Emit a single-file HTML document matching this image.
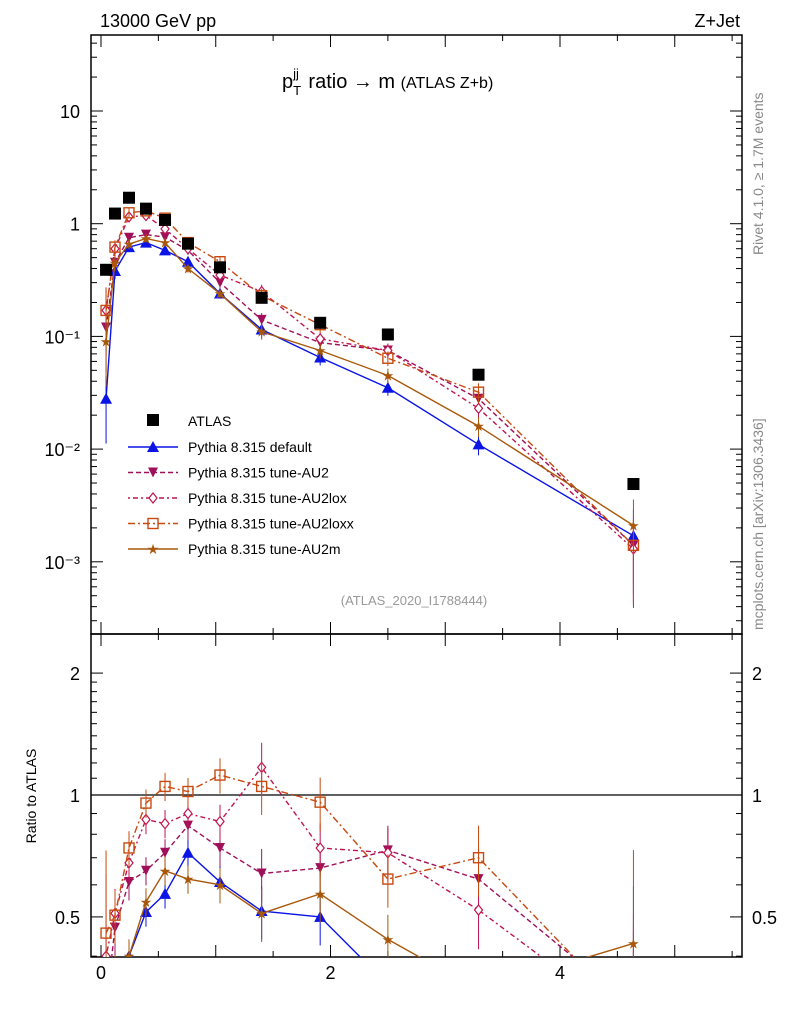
<!DOCTYPE html>
<html><head><meta charset="utf-8"><style>
html,body{margin:0;padding:0;background:#fff;width:786px;height:1024px;overflow:hidden;}
svg{font-family:"Liberation Sans",sans-serif;display:block;overflow:hidden}
</style></head><body>
<svg id="c" width="786" height="1024" viewBox="0 0 786 1024" xmlns="http://www.w3.org/2000/svg">
<text x="100" y="27" font-size="18">13000 GeV pp</text>
<text x="740" y="27" font-size="18" text-anchor="end">Z+Jet</text>
<text x="282" y="88" font-size="20">p<tspan font-size="13" dy="7">T</tspan><tspan font-size="13" dx="-8" dy="-17">jj</tspan><tspan dy="10" dx="4"> ratio → m </tspan><tspan font-size="16">(ATLAS Z+b)</tspan></text>
<text transform="translate(763,255) rotate(-90)" font-size="14" fill="#888">Rivet 4.1.0, ≥ 1.7M events</text>
<text transform="translate(763,630) rotate(-90)" font-size="14" fill="#888">mcplots.cern.ch [arXiv:1306.3436]</text>
<text x="414" y="605" font-size="13" fill="#999" text-anchor="middle">(ATLAS_2020_I1788444)</text>
<text transform="translate(36,796) rotate(-90)" font-size="14" text-anchor="middle">Ratio to ATLAS</text>
<g id="g"></g>
</svg>
<script>
const xs=[0.044,0.122,0.244,0.392,0.558,0.758,1.037,1.40,1.91,2.50,3.29,4.64];
const atlas=[0.39,1.23,1.70,1.36,1.08,0.665,0.41,0.22,0.132,0.104,0.0457,0.0049];
const relErr=[0.6,0.15,0.1,0.08,0.08,0.08,0.1,0.15,0.15,0.15,0.2,0.7];
const mDefault=[0.028,0.38,0.62,0.68,0.58,0.46,0.24,0.115,0.065,0.035,0.011,0.0017];
const mAU2=[0.12,0.45,0.75,0.80,0.76,0.58,0.30,0.14,0.088,0.075,0.028,0.0014];
const mAU2lox=[0.17,0.60,1.15,1.18,0.90,0.60,0.35,0.25,0.095,0.075,0.023,0.0013];
const mAU2loxx=[0.17,0.62,1.25,1.30,1.12,0.68,0.46,0.23,0.127,0.064,0.032,0.0014];
const mAU2m=[0.09,0.45,0.66,0.74,0.68,0.40,0.24,0.11,0.075,0.045,0.016,0.0021];
const rDefault=[0.07,0.31,0.40,0.514,0.57,0.72,0.61,0.517,0.50,0.34,0.24,0.35];
const rAU2=[0.3,0.47,0.61,0.65,0.72,0.84,0.74,0.64,0.66,0.73,0.62,0.3];
const rAU2lox=[0.40,0.51,0.68,0.87,0.85,0.90,0.86,1.17,0.74,0.72,0.52,0.27];
const rAU2loxx=[0.456,0.505,0.74,0.955,1.05,1.02,1.12,1.05,0.96,0.62,0.70,0.28];
const rAU2m=[0.2,0.35,0.40,0.545,0.65,0.62,0.60,0.51,0.57,0.44,0.33,0.43];
const labels=["Pythia 8.315 default","Pythia 8.315 tune-AU2","Pythia 8.315 tune-AU2lox","Pythia 8.315 tune-AU2loxx","Pythia 8.315 tune-AU2m"];
const yTickLabels=["10","1","10⁻¹","10⁻²","10⁻³"];
const ratioTicks=[0.5,1,2];
const xTickLabels=[0,2,4];

const NS="http://www.w3.org/2000/svg",G=document.getElementById('g');
function el(t,a,p){const e=document.createElementNS(NS,t);for(const k in a)e.setAttribute(k,a[k]);(p||G).appendChild(e);return e;}
const L=91,R=742,T1=35,B1=634,T2=634,B2=957;
const X=v=>101+v*114.75;
const Y1=v=>111-(Math.log10(v)-1)*112.7;
const Y2=v=>795-Math.log10(v)*405;
let f=el('rect',{x:L,y:T1,width:R-L,height:B1-T1,fill:'none',stroke:'#000','stroke-width':1.5});

f=el('rect',{x:L,y:T2,width:R-L,height:B2-T2,fill:'none',stroke:'#000','stroke-width':1.5});

for(let i=-0.0;i<=5.5;i+=0.5){const x=X(i),mj=Math.abs(i-Math.round(i))<1e-6,len=mj?12:6;
 for(const [t,b] of [[T1,B1],[T2,B2]]){el('line',{x1:x,x2:x,y1:b,y2:b-len,stroke:'#000'});el('line',{x1:x,x2:x,y1:t,y2:t+len,stroke:'#000'});}}
xTickLabels.forEach(v=>{const t=el('text',{x:X(v),y:979,'font-size':18,'text-anchor':'middle'});t.textContent=v;
 });
for(let d=-4;d<=1;d++){for(let m=1;m<10;m++){const v=m*Math.pow(10,d),y=Y1(v);if(y<T1||y>B1)continue;const len=m==1?12:6;
 el('line',{x1:L,x2:L+len,y1:y,y2:y,stroke:'#000'});el('line',{x1:R,x2:R-len,y1:y,y2:y,stroke:'#000'});}}
yTickLabels.forEach((s,i)=>{const t=el('text',{x:80,y:Y1(Math.pow(10,1-i))+7,'font-size':18,'text-anchor':'end'});t.textContent=s;
 });
for(let v=0.4;v<=2.5001;v+=(v<2?0.1:0.5)){const y=Y2(v);if(y<T2||y>B2)continue;
 const mj=[0.5,1,2].some(q=>Math.abs(q-v)<1e-6),len=mj?12:6;
 el('line',{x1:L,x2:L+len,y1:y,y2:y,stroke:'#000'});el('line',{x1:R,x2:R-len,y1:y,y2:y,stroke:'#000'});}
ratioTicks.forEach(v=>{let t=el('text',{x:80,y:Y2(v)+7,'font-size':18,'text-anchor':'end'});t.textContent=v;
 
 t=el('text',{x:752,y:Y2(v)+7,'font-size':18});t.textContent=v;
 });
el('line',{x1:L,x2:R,y1:Y2(1),y2:Y2(1),stroke:'#000','stroke-width':1.2});
const series=[
 {m:mDefault,r:rDefault,c:'#0a14e6',d:'',mk:'tri'},
 {m:mAU2,r:rAU2,c:'#a0105a',d:'5,3',mk:'tdown'},
 {m:mAU2lox,r:rAU2lox,c:'#c01450',d:'2,3,5,3',mk:'dia'},
 {m:mAU2loxx,r:rAU2loxx,c:'#c84a10',d:'7,3,2,3',mk:'sq'},
 {m:mAU2m,r:rAU2m,c:'#a8580a',d:'',mk:'star'}];
function marker(mk,x,y,c,g){
 if(mk=='tri')el('path',{d:`M${x-6},${y+5}L${x+6},${y+5}L${x},${y-6}Z`,fill:c},g);
 if(mk=='tdown')el('path',{d:`M${x-5},${y-5}L${x+5},${y-5}L${x},${y+5}Z`,fill:c},g);
 if(mk=='dia')el('path',{d:`M${x},${y-5}L${x+4},${y}L${x},${y+5}L${x-4},${y}Z`,fill:'#fff',stroke:c,'stroke-width':1.2},g);
 if(mk=='sq')el('rect',{x:x-5,y:y-5,width:10,height:10,fill:'none',stroke:c,'stroke-width':1.4},g);
 if(mk=='star')el('text',{x:x,y:y+5,'font-size':14,fill:c,'text-anchor':'middle'},g).textContent='★';
}
const clip1=el('clipPath',{id:'c1'});el('rect',{x:L,y:T1,width:R-L,height:B1-T1},clip1);
const clip2=el('clipPath',{id:'c2'});el('rect',{x:L,y:T2,width:R-L,height:B2-T2},clip2);
series.forEach((s,k)=>{
 const g1=el('g',{'clip-path':'url(#c1)'});
 el('polyline',{points:xs.map((x,i)=>X(x)+','+Y1(s.m[i])).join(' '),fill:'none',stroke:s.c,'stroke-width':1.4,'stroke-dasharray':s.d},g1);
 xs.forEach((x,i)=>{const v=s.m[i],e=relErr[i]*v;el('line',{x1:X(x),x2:X(x),y1:Y1(v+e),y2:Y1(Math.max(v-e,v*0.2)),stroke:s.c},g1);marker(s.mk,X(x),Y1(v),s.c,g1);});
 const g2=el('g',{'clip-path':'url(#c2)'});
 el('polyline',{points:xs.map((x,i)=>X(x)+','+Y2(s.r[i])).join(' '),fill:'none',stroke:s.c,'stroke-width':1.4,'stroke-dasharray':s.d},g2);
 xs.forEach((x,i)=>{const v=s.r[i],e=relErr[i]*v;el('line',{x1:X(x),x2:X(x),y1:Y2(v+e),y2:Y2(Math.max(v-e,0.1)),stroke:s.c},g2);marker(s.mk,X(x),Y2(v),s.c,g2);});
 const ly=447+k*25.5,lg=el('g',{});
 el('line',{x1:128,x2:178,y1:ly,y2:ly,stroke:s.c,'stroke-width':1.4,'stroke-dasharray':s.d},lg);
 marker(s.mk,153,ly,s.c,lg);
 const t=el('text',{x:188,y:ly+5,'font-size':14},lg);t.textContent=labels[k];
});
xs.forEach((x,i)=>{const r=el('rect',{x:X(x)-6,y:Y1(atlas[i])-6,width:12,height:12,fill:'#000'});
 });
const la=el('g',{});
el('rect',{x:147,y:414,width:12,height:12,fill:'#000'},la);
el('text',{x:188,y:426,'font-size':14},la).textContent='ATLAS';
</script>
</body></html>
